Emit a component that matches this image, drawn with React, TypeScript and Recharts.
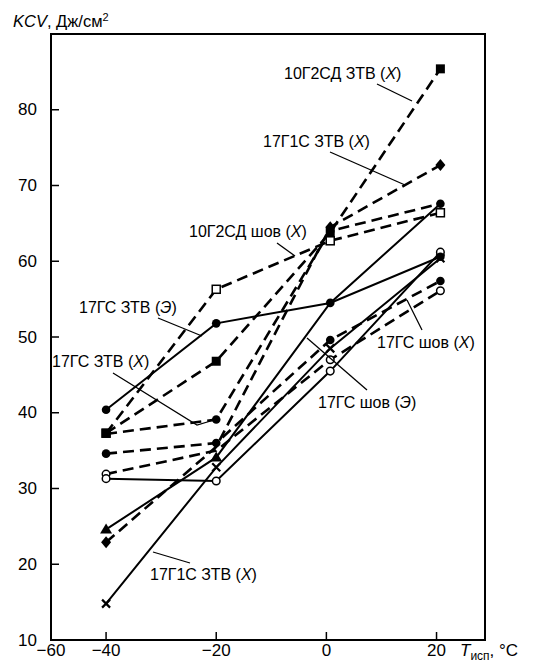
import React from 'react';
import { LineChart, Line, XAxis, YAxis, ReferenceArea } from 'recharts';

// test temperature, °C (points sit a little right of the 0 and 20 ticks in the original)
const T_TEST = [-40, -20, 0.7, 20.7];

// KCV, J/cm2
const S_10G2SD_ZTV_X = [37.3, 46.8, 63.8, 85.4];
const S_10G2SD_SHOV_X = [37.3, 56.3, 62.7, 66.4];
const S_17G1S_ZTV_X_DASH = [22.9, 35.5, 64.5, 72.7];
const S_17GS_ZTV_E = [40.4, 51.8, 54.5, 60.6];
const S_17GS_ZTV_X = [37.2, 39.1, 64.0, 67.6];
const S_17GS_SHOV_X = [34.6, 36.0, 49.6, 57.4];
const S_TRIANGLE = [24.6, 34.1, 54.5, 67.6];
const S_17G1S_ZTV_X_SOLID = [14.8, 32.8, 48.5, 60.4];
const S_17GS_SHOV_E = [31.3, 31.0, 45.5, 61.2];
const S_OPEN_DASH = [31.9, 35.0, 47.0, 56.1];

const X_TICKS = [-50, -40, -20, 0, 20];
const X_TICK_LABELS = ['−60', '−40', '−20', '0', '20'];
const Y_TICKS = [10, 20, 30, 40, 50, 60, 70, 80];

// drawing order: later ones on top
const SERIES = [
  { key: 'b', values: S_10G2SD_SHOV_X, dashed: true, marker: 'openSquare', hide: [] as number[] },
  { key: 'e', values: S_17GS_ZTV_X, dashed: true, marker: 'circle', hide: [0] },
  { key: 'g', values: S_TRIANGLE, dashed: false, marker: 'triangle', hide: [2, 3] },
  { key: 'c', values: S_17G1S_ZTV_X_DASH, dashed: true, marker: 'diamond', hide: [1] },
  { key: 'f', values: S_17GS_SHOV_X, dashed: true, marker: 'circle', hide: [] },
  { key: 'j', values: S_OPEN_DASH, dashed: true, marker: 'openCircle', hide: [1] },
  { key: 'i', values: S_17GS_SHOV_E, dashed: false, marker: 'openCircle', hide: [] },
  { key: 'h', values: S_17G1S_ZTV_X_SOLID, dashed: false, marker: 'cross', hide: [] },
  { key: 'd', values: S_17GS_ZTV_E, dashed: false, marker: 'circle', hide: [] },
  { key: 'a', values: S_10G2SD_ZTV_X, dashed: true, marker: 'square', hide: [] },
];

const data = T_TEST.map((t, i) => {
  const row: any = { t };
  SERIES.forEach((s) => (row[s.key] = s.values[i]));
  return row;
});

const Marker = ({ cx, cy, kind }: any) => {
  switch (kind) {
    case 'square':
      return <rect x={cx - 4.5} y={cy - 4.5} width={9} height={9} fill="#000" />;
    case 'openSquare':
      return <rect x={cx - 4} y={cy - 4} width={8} height={8} fill="#fff" stroke="#000" strokeWidth={1.5} />;
    case 'circle':
      return <circle cx={cx} cy={cy} r={4.3} fill="#000" />;
    case 'openCircle':
      return <circle cx={cx} cy={cy} r={3.8} fill="#fff" stroke="#000" strokeWidth={1.5} />;
    case 'diamond':
      return <path d={`M${cx},${cy - 6}L${cx + 5},${cy}L${cx},${cy + 6}L${cx - 5},${cy}Z`} fill="#000" />;
    case 'triangle':
      return <path d={`M${cx},${cy - 6}L${cx + 6},${cy + 4}L${cx - 6},${cy + 4}Z`} fill="#000" />;
    case 'cross':
      return (
        <path
          d={`M${cx - 4},${cy - 4}L${cx + 4},${cy + 4}M${cx + 4},${cy - 4}L${cx - 4},${cy + 4}`}
          stroke="#000"
          strokeWidth={2.2}
        />
      );
    default:
      return null;
  }
};

const YTick = ({ x, y, payload }: any) => (
  <g>
    {payload.value !== Y_TICKS[0] && <line x1={x} y1={y} x2={x + 8} y2={y} stroke="#000" strokeWidth={1.5} />}
    <text x={x - 14} y={y} textAnchor="end" dominantBaseline="central" fontSize={17} fill="#000">
      {payload.value}
    </text>
  </g>
);

const XTick = ({ x, y, payload }: any) => {
  const i = X_TICKS.indexOf(payload.value);
  return (
    <g>
      {i > 0 && <line x1={x} y1={y} x2={x} y2={y - 8} stroke="#000" strokeWidth={1.5} />}
      <text x={x} y={y + 16} textAnchor="middle" fontSize={17} fill="#000">
        {X_TICK_LABELS[i]}
      </text>
    </g>
  );
};

const LABELS = [
  { text: '10Г2СД ЗТВ', tag: 'Х', x: 284, y: 79, lead: [[377, 84], [412, 101]] },
  { text: '17Г1С ЗТВ', tag: 'Х', x: 263, y: 147, lead: [[330, 152], [405, 185]] },
  { text: '10Г2СД шов', tag: 'Х', x: 189, y: 237, lead: [[277, 243], [295, 256]] },
  { text: '17ГС ЗТВ', tag: 'Э', x: 79, y: 313, lead: [[158, 318], [202, 336]] },
  { text: '17ГС ЗТВ', tag: 'Х', x: 52, y: 367, lead: [[113, 373], [197, 425], [214, 420]] },
  { text: '17ГС шов', tag: 'Х', x: 377, y: 348, lead: [[422, 330], [407, 300]] },
  { text: '17ГС шов', tag: 'Э', x: 318, y: 408, lead: [[307, 338], [367, 390]] },
  { text: '17Г1С ЗТВ', tag: 'Х', x: 150, y: 580, lead: [[153, 552], [190, 563]] },
];

export default function App() {
  return (
    <div
      style={{
        position: 'absolute',
        left: 0,
        top: 0,
        width: 536,
        height: 669,
        background: '#fff',
        fontFamily: '"Liberation Sans", Arial, sans-serif',
        overflow: 'hidden',
      }}
    >
      <LineChart width={536} height={669} data={data} margin={{ top: 34, right: 51, bottom: 28, left: 50 }}>
        <XAxis
          dataKey="t"
          type="number"
          domain={[-50, 28.8]}
          ticks={X_TICKS}
          interval={0}
          height={1}
          tickSize={0}
          tickMargin={0}
          axisLine={false}
          tickLine={false}
          tick={(p: any) => <XTick {...p} />}
          allowDataOverflow
        />
        <YAxis
          type="number"
          domain={[10, 90]}
          ticks={Y_TICKS}
          interval={0}
          width={1}
          tickSize={0}
          tickMargin={0}
          axisLine={false}
          tickLine={false}
          tick={(p: any) => <YTick {...p} />}
          allowDataOverflow
        />
        <ReferenceArea x1={-50} x2={28.8} y1={10} y2={90} fill="none" stroke="#000" strokeWidth={2} />
        {SERIES.map((s) => (
          <Line
            key={s.key}
            dataKey={s.key}
            type="linear"
            stroke="#000"
            strokeWidth={s.dashed ? 2.6 : 2}
            strokeDasharray={s.dashed ? '11 6' : undefined}
            activeDot={false}
            isAnimationActive={false}
            dot={(p: any) =>
              s.hide.includes(p.index) ? (
                <g key={`${s.key}-${p.index}`} />
              ) : (
                <g key={`${s.key}-${p.index}`}>
                  <Marker cx={p.cx} cy={p.cy} kind={s.marker} />
                </g>
              )
            }
          />
        ))}
      </LineChart>
      <svg
        width={536}
        height={669}
        style={{ position: 'absolute', left: 0, top: 0, pointerEvents: 'none' }}
      >
        <text x={13} y={27} fontSize={16.5} fill="#000">
          <tspan fontStyle="italic">KCV</tspan>, Дж/см
          <tspan fontSize={11} dy={-6}>2</tspan>
        </text>
        <text x={460} y={656} fontSize={17} fill="#000">
          <tspan fontStyle="italic">T</tspan>
          <tspan fontSize={12} dy={4}>исп</tspan>
          <tspan dy={-4}>, °C</tspan>
        </text>
        {LABELS.map((l, i) => (
          <g key={i}>
            <polyline
              points={l.lead.map((p) => p.join(',')).join(' ')}
              fill="none"
              stroke="#000"
              strokeWidth={1.3}
            />
            <text x={l.x} y={l.y} fontSize={16} fill="#000">
              {l.text} (<tspan fontStyle="italic">{l.tag}</tspan>)
            </text>
          </g>
        ))}
      </svg>
    </div>
  );
}
